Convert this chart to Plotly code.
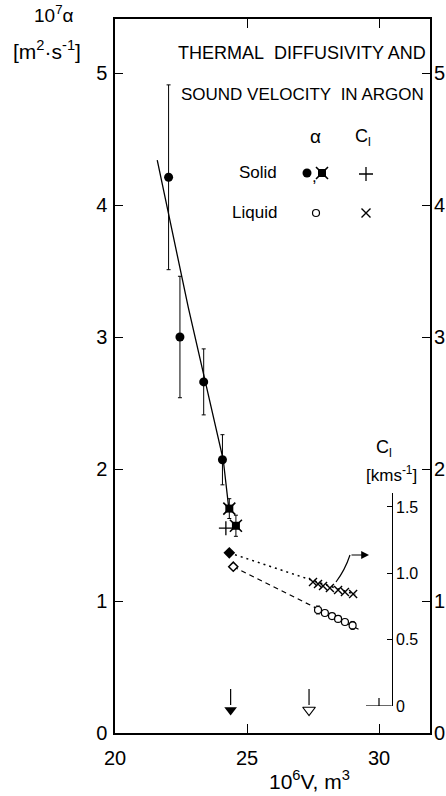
import plotly.graph_objects as go

# ---------------- data ----------------
# thermal diffusivity of solid argon (filled circles), 10^7 a [m^2 s^-1]
solid_v = [22.03, 22.46, 23.36, 24.07]
solid_a = [4.21, 3.00, 2.66, 2.07]
solid_err = [0.70, 0.46, 0.25, 0.19]

# solid, second method (filled square-asterisk)
solid2_v = [24.33, 24.58]
solid2_a = [1.70, 1.57]
solid2_err = [0.075, 0.08]

# liquid thermal diffusivity (open circles)
liq_v = [27.69, 27.95, 28.22, 28.45, 28.71, 29.00]
liq_a = [0.932, 0.909, 0.886, 0.864, 0.841, 0.815]
liq_err = [0.03, 0.0, 0.0, 0.0, 0.0, 0.03]

# sound velocity C_l [km s^-1]
cl_solid_v = [24.20]
cl_solid = [1.34]
cl_liq_v = [27.50, 27.69, 27.88, 28.14, 28.45, 28.71, 29.02]
cl_liq = [0.934, 0.919, 0.904, 0.889, 0.874, 0.859, 0.844]

# values at melting (diamonds)
melt_cl_v = [24.33]
melt_cl = [1.154]
melt_a_v = [24.48]
melt_a = [1.26]

# fitted curves
fit_solid_v = [21.60, 22.78, 24.10, 24.30]
fit_solid_a = [4.34, 3.22, 2.07, 1.72]
fit_cl_v = [24.33, 29.10]
fit_cl = [1.154, 0.84]
fit_liq_v = [24.48, 29.36]
fit_liq_a = [1.26, 0.773]

# molar volumes at melting (arrows): solid, liquid
melt_volumes = [24.38, 27.35]

x_ticks = [20, 25, 30]
y_ticks = [0, 1, 2, 3, 4, 5]
cl_ticks = [0, 0.5, 1.0, 1.5]
cl_tick_text = ["0", "0.5", "1.0", "1.5"]

# ---------------- layout geometry ----------------
W, H = 446, 796
L, R, T, B = 115, 430, 19, 733
X0, PXU = 20.0, 26.4          # x px per unit
PYU = 132.0                   # y px per unit
XMAX = X0 + (R - L) / PXU
YMAX = (B - T) / PYU
CL_ZERO_PX = 706
CL_PYU = 132.7
CL_TOP_PX = 493
CL_AXIS_PX = 391.7

FONT = "Liberation Sans"
BLACK = "black"


def pxx(p):
    return (p - L) / (R - L)


def pxy(p):
    return (B - p) / (B - T)


def dx(p):
    return X0 + (p - L) / PXU


def dy(p):
    return (B - p) / PYU


fig = go.Figure()

# solid fit line
fig.add_trace(go.Scatter(x=fit_solid_v, y=fit_solid_a, mode="lines",
                         line=dict(color=BLACK, width=1.3), hoverinfo="skip"))
# liquid diffusivity dashed fit
fig.add_trace(go.Scatter(x=fit_liq_v, y=fit_liq_a, mode="lines",
                         line=dict(color=BLACK, width=1.2, dash="5px,4px"), hoverinfo="skip"))
# C_l dotted fit (on inset axis)
fig.add_trace(go.Scatter(x=fit_cl_v, y=fit_cl, mode="lines", yaxis="y2",
                         line=dict(color=BLACK, width=1.5, dash="2px,4px"), hoverinfo="skip"))

# solid circles with error bars
fig.add_trace(go.Scatter(x=solid_v, y=solid_a, mode="markers",
                         marker=dict(symbol="circle", size=9, color=BLACK),
                         error_y=dict(type="data", array=solid_err, color=BLACK,
                                      thickness=1, width=2)))
# solid second method
fig.add_trace(go.Scatter(x=solid2_v, y=solid2_a, mode="markers",
                         marker=dict(symbol="square", size=8, color=BLACK),
                         error_y=dict(type="data", array=solid2_err, color=BLACK,
                                      thickness=1, width=2)))
fig.add_trace(go.Scatter(x=solid2_v, y=solid2_a, mode="markers",
                         marker=dict(symbol="x-thin-open", size=12, color=BLACK,
                                     line=dict(color=BLACK, width=1.6))))
# liquid circles
fig.add_trace(go.Scatter(x=liq_v, y=liq_a, mode="markers",
                         marker=dict(symbol="circle", size=7, color="white",
                                     line=dict(color=BLACK, width=1.2)),
                         error_y=dict(type="data", array=liq_err, color=BLACK,
                                      thickness=1, width=2)))
# open diamond (liquid a at melting)
fig.add_trace(go.Scatter(x=melt_a_v, y=melt_a, mode="markers",
                         marker=dict(symbol="diamond", size=7, color="white",
                                     line=dict(color=BLACK, width=1.5))))
# C_l solid (+), liquid (x), melting (filled diamond)
fig.add_trace(go.Scatter(x=cl_solid_v, y=cl_solid, mode="markers", yaxis="y2",
                         marker=dict(symbol="cross-thin-open", size=10, color=BLACK,
                                     line=dict(color=BLACK, width=1.3))))
fig.add_trace(go.Scatter(x=cl_liq_v, y=cl_liq, mode="markers", yaxis="y2",
                         marker=dict(symbol="x-thin-open", size=8, color=BLACK,
                                     line=dict(color=BLACK, width=1.4))))
fig.add_trace(go.Scatter(x=melt_cl_v, y=melt_cl, mode="markers", yaxis="y2",
                         marker=dict(symbol="diamond", size=9, color=BLACK)))

# melting-volume arrows
arrow_top, arrow_head = dy(689), dy(710)
for v in melt_volumes:
    fig.add_shape(type="line", x0=v, x1=v, y0=arrow_top, y1=dy(705),
                  xref="x", yref="y", line=dict(color=BLACK, width=1.2))
fig.add_trace(go.Scatter(x=melt_volumes[:1], y=[arrow_head], mode="markers",
                         marker=dict(symbol="triangle-down", size=11, color=BLACK)))
fig.add_trace(go.Scatter(x=melt_volumes[1:], y=[arrow_head], mode="markers",
                         marker=dict(symbol="triangle-down-open", size=11, color=BLACK,
                                     line=dict(color=BLACK, width=1.2))))

# legend symbols
leg_x_a, leg_x_c = dx(316), dx(366)
fig.add_trace(go.Scatter(x=[dx(307)], y=[dy(173)], mode="markers",
                         marker=dict(symbol="circle", size=9, color=BLACK)))
fig.add_trace(go.Scatter(x=[dx(322)], y=[dy(173)], mode="markers",
                         marker=dict(symbol="square", size=8, color=BLACK)))
fig.add_trace(go.Scatter(x=[dx(322)], y=[dy(173)], mode="markers",
                         marker=dict(symbol="x-thin-open", size=12, color=BLACK,
                                     line=dict(color=BLACK, width=1.6))))
fig.add_trace(go.Scatter(x=[leg_x_c], y=[dy(174)], mode="markers",
                         marker=dict(symbol="cross-thin-open", size=10, color=BLACK,
                                     line=dict(color=BLACK, width=1.3))))
fig.add_trace(go.Scatter(x=[leg_x_a], y=[dy(213)], mode="markers",
                         marker=dict(symbol="circle", size=7, color="white",
                                     line=dict(color=BLACK, width=1.2))))
fig.add_trace(go.Scatter(x=[leg_x_c], y=[dy(213)], mode="markers",
                         marker=dict(symbol="x-thin-open", size=9, color=BLACK,
                                     line=dict(color=BLACK, width=1.4))))

# inset C_l axis baseline with tick
cl_base = 0.0
fig.add_shape(type="line", xref="x", yref="y2", x0=dx(366), x1=dx(CL_AXIS_PX),
              y0=cl_base, y1=cl_base, line=dict(color=BLACK, width=1.2))
fig.add_shape(type="line", xref="x", yref="y2", x0=30, x1=30,
              y0=cl_base, y1=0.06, line=dict(color=BLACK, width=1.2))

# curved arrow from C_l points to the inset axis
cx0, cy0 = dx(336), (CL_ZERO_PX - 582) / CL_PYU
cx1, cy1 = dx(350), (CL_ZERO_PX - 555) / CL_PYU
ccx, ccy = dx(345), (CL_ZERO_PX - 570) / CL_PYU
fig.add_shape(type="path", xref="x", yref="y2",
              path=f"M {cx0},{cy0} Q {ccx},{ccy} {cx1},{cy1}",
              line=dict(color=BLACK, width=1.2))
fig.add_annotation(x=dx(369), y=cy1, ax=cx1, ay=cy1, xref="x", yref="y2",
                   axref="x", ayref="y2", text="", showarrow=True,
                   arrowhead=2, arrowsize=1.3, arrowwidth=1.2, arrowcolor=BLACK)

# ---------------- texts ----------------
def txt(text, xp, yp, size=17, anchor="center"):
    fig.add_annotation(x=pxx(xp), y=pxy(yp), xref="paper", yref="paper",
                       text=text, showarrow=False, xanchor=anchor, yanchor="middle",
                       font=dict(family=FONT, size=size, color=BLACK))


txt("THERMAL\u00a0\u00a0DIFFUSIVITY AND", 302, 53, 18)
txt("SOUND VELOCITY\u00a0\u00a0IN ARGON", 302, 95, 17)
txt("α", 315, 136, 19)
txt("C<sub>l</sub>", 363, 138, 18)
txt("Solid", 258, 172, 17)
txt(",", 314, 176, 17)
txt("Liquid", 254, 212, 17)

txt("10<sup>7</sup>α", 54, 14, 19)
txt("[m<sup>2</sup>·s<sup>-1</sup>]", 47, 50, 21)
txt("C<sub>l</sub>", 384, 448, 18)
txt("[kms<sup>-1</sup>]", 391, 474, 17)
txt("10<sup>6</sup>V, m<sup>3</sup>", 309, 780, 21)

# ---------------- axes ----------------
axis_font = dict(family=FONT, size=20, color=BLACK)
fig.update_layout(
    width=W, height=H,
    margin=dict(l=L, r=W - R, t=T, b=H - B, pad=0, autoexpand=False),
    paper_bgcolor="white", plot_bgcolor="rgba(0,0,0,0)",
    showlegend=False,
    xaxis=dict(range=[X0, XMAX], tickvals=x_ticks, ticks="inside", ticklen=9,
               tickwidth=1.2, tickcolor=BLACK, showline=True, linecolor=BLACK,
               linewidth=1.5, mirror="ticks", showgrid=False, zeroline=False,
               tickfont=axis_font, ticklabelstandoff=6, automargin=False),
    yaxis=dict(range=[0, YMAX], tickvals=y_ticks, ticks="inside", ticklen=8,
               tickwidth=1.2, tickcolor=BLACK, showline=True, linecolor=BLACK,
               linewidth=1.5, mirror="ticks", showgrid=False, zeroline=False,
               tickfont=axis_font, ticklabelstandoff=2, automargin=False),
    yaxis3=dict(range=[0, YMAX], tickvals=y_ticks, overlaying="y", side="right",
                ticks="", showline=False, showgrid=False, zeroline=False,
                tickfont=axis_font, anchor="x", ticklabelstandoff=3,
                automargin=False),
    yaxis2=dict(range=[0, (CL_ZERO_PX - CL_TOP_PX) / CL_PYU],
                domain=[pxy(CL_ZERO_PX), pxy(CL_TOP_PX)],
                anchor="free", position=pxx(CL_AXIS_PX), side="right",
                tickvals=cl_ticks, ticktext=cl_tick_text, ticks="inside",
                ticklen=5, tickwidth=1.2, tickcolor=BLACK, showline=True,
                linecolor=BLACK, linewidth=1.2, showgrid=False, zeroline=False,
                tickfont=dict(family=FONT, size=16, color=BLACK),
                automargin=False),
)
# dummy trace so that yaxis3 shows its labels
fig.add_trace(go.Scatter(x=[X0], y=[0], yaxis="y3", mode="markers",
                         marker=dict(opacity=0), hoverinfo="skip"))

fig.write_html("out.html")
